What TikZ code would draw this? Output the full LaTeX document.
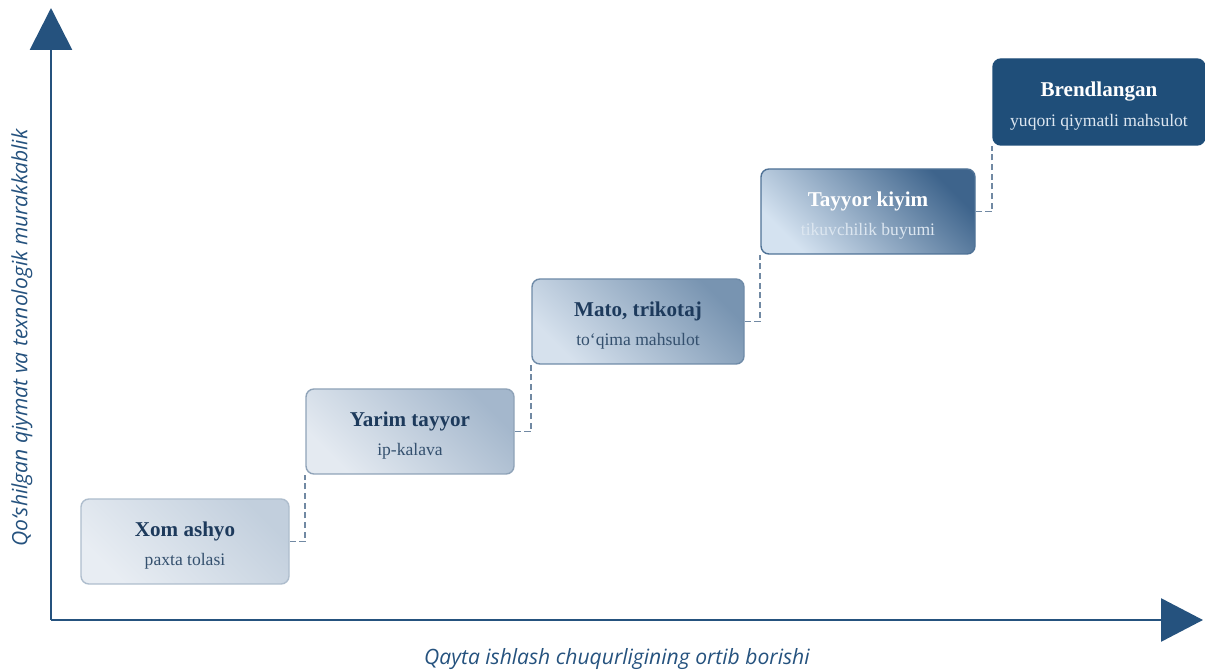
\documentclass[tikz,border=0pt]{standalone}
\usepackage{fontspec}
\setmainfont{Liberation Serif}
\newfontfamily\axisfont{Open Sans}
\usepackage{xcolor}
\usepackage{tikz}
\usetikzlibrary{arrows.meta}

\definecolor{axisblue}{HTML}{25527E}
\definecolor{navy}{HTML}{1D3A5C}
\definecolor{subnavy}{HTML}{34506E}
\definecolor{sublight}{HTML}{DCE6F0}
\definecolor{dashgray}{HTML}{7189A3}
\definecolor{brendblue}{HTML}{1F4E79}
% stage colours: border, dark corner, light corner
\definecolor{xomline}{RGB}{174,189,205}
\definecolor{xomdark}{RGB}{194,207,221}
\definecolor{xomlight}{RGB}{232,237,243}
\definecolor{yarimline}{RGB}{143,163,184}
\definecolor{yarimdark}{RGB}{164,183,204}
\definecolor{yarimlight}{RGB}{228,234,241}
\definecolor{matoline}{RGB}{111,139,168}
\definecolor{matodark}{RGB}{120,148,177}
\definecolor{matolight}{RGB}{214,225,237}
\definecolor{kiyimline}{RGB}{79,114,150}
\definecolor{kiyimdark}{RGB}{62,100,140}
\definecolor{kiyimlight}{RGB}{212,226,240}

\begin{document}
\begin{tikzpicture}[x=0.02cm, y=-0.02cm,
  stagebox/.style={draw, rounded corners=4.5pt, line width=0.8pt, minimum height=85*0.02cm,
    align=center, inner sep=0pt},
  diag/.style 2 args={top color=#1, bottom color=#2, shading angle=-45},
  link/.style={draw=dashgray, line width=1.1pt, dash pattern=on 3.5pt off 2pt}]
\useasboundingbox (0,0) rectangle (1205,672);
% Axes
\draw[axisblue, line width=1.6pt, -{Triangle[length=0.84cm, width=0.84cm]}] (51,620) -- (51,8);
\draw[axisblue, line width=1.6pt, -{Triangle[length=0.84cm, width=0.86cm]}] (51,620) -- (1203,620);
\node[font=\axisfont\itshape\fontsize{12}{14}\selectfont, text=axisblue, rotate=90] (ylabel) at (22,338) {Qo‘shilgan qiymat va texnologik murakkablik};
\node[font=\axisfont\itshape\fontsize{12}{14}\selectfont, text=axisblue] (xlabel) at (617,659) {Qayta ishlash chuqurligining ortib borishi};
% Stages
\node[stagebox, minimum width=208*0.02cm, draw=xomline, diag={xomdark}{xomlight}, text=navy] (xom) at (185,541.5)
  {\rule{0pt}{13pt}{\fontsize{12}{14}\selectfont\bfseries Xom ashyo}\\[5pt]{\fontsize{10}{12}\selectfont\color{subnavy} paxta tolasi}};
\node[stagebox, minimum width=208*0.02cm, draw=yarimline, diag={yarimdark}{yarimlight}, text=navy] (yarim) at (410,431.5)
  {\rule{0pt}{13pt}{\fontsize{12}{14}\selectfont\bfseries Yarim tayyor}\\[5pt]{\fontsize{10}{12}\selectfont\color{subnavy} ip-kalava}};
\node[stagebox, minimum width=212*0.02cm, draw=matoline, diag={matodark}{matolight}, text=navy] (mato) at (638,321.5)
  {\rule{0pt}{13pt}{\fontsize{12}{14}\selectfont\bfseries Mato, trikotaj}\\[5pt]{\fontsize{10}{12}\selectfont\color{subnavy} to‘qima mahsulot}};
\node[stagebox, minimum width=214*0.02cm, draw=kiyimline, diag={kiyimdark}{kiyimlight}, text=white] (kiyim) at (868,211.5)
  {\rule{0pt}{13pt}{\fontsize{12}{14}\selectfont\bfseries Tayyor kiyim}\\[5pt]{\fontsize{10}{12}\selectfont\color{sublight} tikuvchilik buyumi}};
\node[stagebox, minimum width=212*0.02cm, minimum height=86*0.02cm, draw=brendblue, fill=brendblue, text=white] (brend) at (1099,102)
  {\rule{0pt}{13pt}{\fontsize{12}{14}\selectfont\bfseries Brendlangan}\\[5pt]{\fontsize{10}{12}\selectfont\color{sublight} yuqori qiymatli mahsulot}};
% Steps
\draw[link] (xom.east) -| (yarim.south west);
\draw[link] (yarim.east) -| (mato.south west);
\draw[link] (mato.east) -| (kiyim.south west);
\draw[link] (kiyim.east) -| (brend.south west);
\end{tikzpicture}
\end{document}
